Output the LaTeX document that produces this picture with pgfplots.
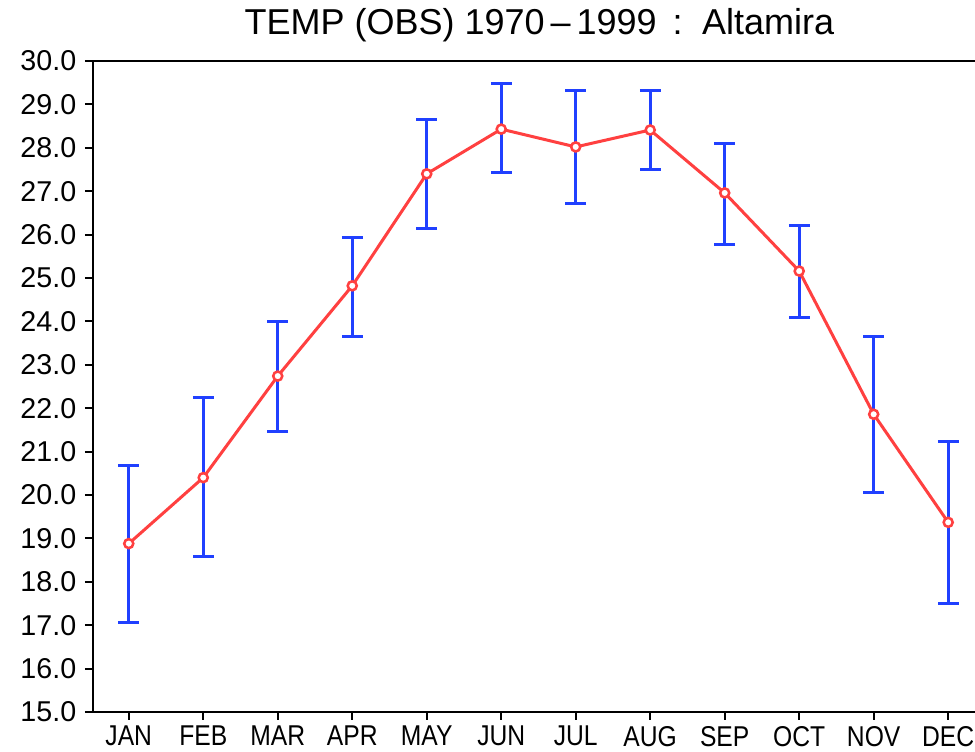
\documentclass[border=0pt]{standalone}
\usepackage{pgfplots}
\pgfplotsset{compat=1.18}
\usepackage{pgfplotstable}
\usepackage{fontspec}
\setmainfont{Liberation Sans}
\newfontfamily\narrowfont[FakeStretch=0.86]{Liberation Sans}
\definecolor{ebblue}{RGB}{32,64,255}
\definecolor{linered}{RGB}{255,64,64}

\pgfplotstableread{
x y ep em
0 18.88 1.80 1.81
1 20.40 1.84 1.82
2 22.74 1.25 1.27
3 24.82 1.12 1.16
4 27.40 1.26 1.27
5 28.43 1.04 1.01
6 28.02 1.31 1.31
7 28.41 0.92 0.90
8 26.96 1.15 1.18
9 25.16 1.04 1.08
10 21.86 1.80 1.80
11 19.37 1.86 1.87
}\tempdata

\begin{document}
\begin{tikzpicture}
\begin{axis}[
  width=661.5pt, height=488.25pt, scale only axis,
  xmin=-0.48, xmax=11.36, ymin=15, ymax=30,
  axis lines=left,
  axis line style={-, line width=1.8pt, black},
  xtick={0,...,11},
  xticklabels={JAN,FEB,MAR,APR,MAY,JUN,JUL,AUG,SEP,OCT,NOV,DEC},
  ytick={15,16,...,30},
  tick align=outside,
  major tick length=6pt,
  tick style={line width=1.5pt, black},
  /pgf/number format/assume math mode=true,
  yticklabel style={/pgf/number format/fixed, /pgf/number format/fixed zerofill, /pgf/number format/precision=1, xshift=-3pt, font=\fontsize{21.5}{24}\selectfont},
  xticklabel style={yshift=-1pt, font=\narrowfont\fontsize{21.5}{24}\selectfont},
  title={TEMP (OBS) 1970\,--\,1999 \,:\, Altamira},
  title style={font=\fontsize{27}{30}\selectfont, at={(0.5,1)}, anchor=base, yshift=14pt, xshift=4pt},
  clip=false,
]
\addplot[only marks, mark=none,
  error bars/.cd, y dir=both, y explicit,
  error bar style={ebblue, line width=2.25pt},
  error mark options={rotate=90, mark size=7.8pt, ebblue, line width=2.25pt}]
  table[x=x, y=y, y error plus=ep, y error minus=em]{\tempdata};
\addplot[linered, line width=2.25pt, mark=*, mark size=3.4pt,
  mark options={fill=white, draw=linered, line width=1.9pt}]
  table[x=x, y=y]{\tempdata};
\end{axis}
\draw[line width=1.8pt, black] (current axis.north west) -- (current axis.north east);
\pgfresetboundingbox
\path[use as bounding box] ([xshift=-69.75pt, yshift=-30pt]current axis.south west) rectangle ([yshift=45.75pt]current axis.north east);
\end{tikzpicture}
\end{document}
